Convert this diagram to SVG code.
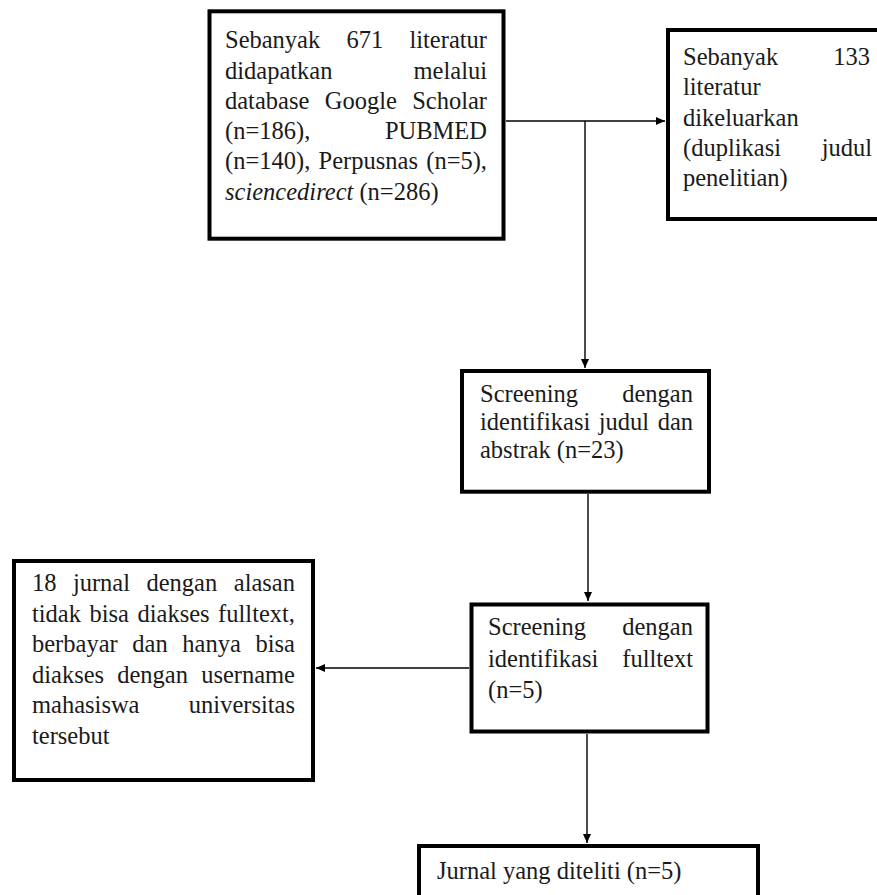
<svg xmlns="http://www.w3.org/2000/svg" width="877" height="895" viewBox="0 0 877 895">
<style>
.box{fill:#fff;stroke:#000;stroke-width:4}
.t{font-family:"Liberation Serif","Times New Roman",serif;font-size:24.5px;fill:#1a1a1a}
.e{text-anchor:end}
.c{fill:none;stroke:#000;stroke-width:1.4}
</style>
<defs>
<marker id="ah" markerWidth="10" markerHeight="10" refX="9" refY="5" orient="auto" markerUnits="userSpaceOnUse">
<path d="M0,1 L9,5 L0,9 Z" fill="#000"/>
</marker>
</defs>
<rect width="877" height="895" fill="#fff"/>
<g id="connectors">
<line class="c" x1="506" y1="121" x2="665" y2="121" marker-end="url(#ah)"/>
<line class="c" x1="585" y1="121" x2="585" y2="368" marker-end="url(#ah)"/>
<line class="c" x1="588" y1="494" x2="588" y2="601" marker-end="url(#ah)"/>
<line class="c" x1="469" y1="668" x2="316" y2="668" marker-end="url(#ah)"/>
<line class="c" x1="587" y1="734" x2="587" y2="843" marker-end="url(#ah)"/>
</g>
<g id="n1">
<rect class="box" x="209.5" y="11.3" width="294" height="227.4"/>
<text class="t" x="225" y="48">Sebanyak</text>
<text class="t" x="346.5" y="48">671</text>
<text class="t e" x="487" y="48">literatur</text>
<text class="t" x="225" y="78.5">didapatkan</text>
<text class="t e" x="487" y="78.5">melalui</text>
<text class="t" x="225" y="109">database</text>
<text class="t" x="324.7" y="109">Google</text>
<text class="t e" x="487" y="109">Scholar</text>
<text class="t" x="225" y="139">(n=186),</text>
<text class="t e" x="487" y="139">PUBMED</text>
<text class="t" x="225" y="169">(n=140),</text>
<text class="t" x="318.6" y="169">Perpusnas</text>
<text class="t e" x="487" y="169">(n=5),</text>
<text class="t" x="225" y="199.5"><tspan font-style="italic">sciencedirect</tspan> (n=286)</text>
</g>
<g id="n2">
<rect class="box" x="668" y="30" width="215" height="189"/>
<text class="t" x="683" y="65">Sebanyak</text>
<text class="t e" x="870" y="65">133</text>
<text class="t" x="683" y="95.3">literatur</text>
<text class="t" x="683" y="125.6">dikeluarkan</text>
<text class="t" x="683" y="156">(duplikasi</text>
<text class="t e" x="872" y="156">judul</text>
<text class="t" x="683" y="186.3">penelitian)</text>
</g>
<g id="n3">
<rect class="box" x="462" y="371" width="247" height="120.7"/>
<text class="t" x="480" y="402">Screening</text>
<text class="t e" x="693" y="402">dengan</text>
<text class="t" x="480" y="430">identifikasi</text>
<text class="t" x="598.7" y="430">judul</text>
<text class="t e" x="693" y="430">dan</text>
<text class="t" x="480" y="458">abstrak (n=23)</text>
</g>
<g id="n4">
<rect class="box" x="14" y="561" width="299" height="219"/>
<text class="t" x="32" y="591">18</text>
<text class="t" x="72.9" y="591">jurnal</text>
<text class="t" x="146.5" y="591">dengan</text>
<text class="t e" x="295" y="591">alasan</text>
<text class="t" x="32" y="621.5">tidak</text>
<text class="t" x="89.5" y="621.5">bisa</text>
<text class="t" x="137.5" y="621.5">diakses</text>
<text class="t e" x="295" y="621.5">fulltext,</text>
<text class="t" x="32" y="652">berbayar</text>
<text class="t" x="132.3" y="652">dan</text>
<text class="t" x="182.3" y="652">hanya</text>
<text class="t e" x="295" y="652">bisa</text>
<text class="t" x="32" y="682.5">diakses</text>
<text class="t" x="117.2" y="682.5">dengan</text>
<text class="t e" x="295" y="682.5">username</text>
<text class="t" x="32" y="713">mahasiswa</text>
<text class="t e" x="295" y="713">universitas</text>
<text class="t" x="32" y="743.5">tersebut</text>
</g>
<g id="n5">
<rect class="box" x="471.5" y="604.5" width="236" height="127"/>
<text class="t" x="488" y="635">Screening</text>
<text class="t e" x="693" y="635">dengan</text>
<text class="t" x="488" y="666.5">identifikasi</text>
<text class="t e" x="693" y="666.5">fulltext</text>
<text class="t" x="488" y="698">(n=5)</text>
</g>
<g id="n6">
<rect class="box" x="419" y="846" width="339" height="60"/>
<text class="t" x="437" y="879">Jurnal yang diteliti (n=5)</text>
</g>
</svg>
